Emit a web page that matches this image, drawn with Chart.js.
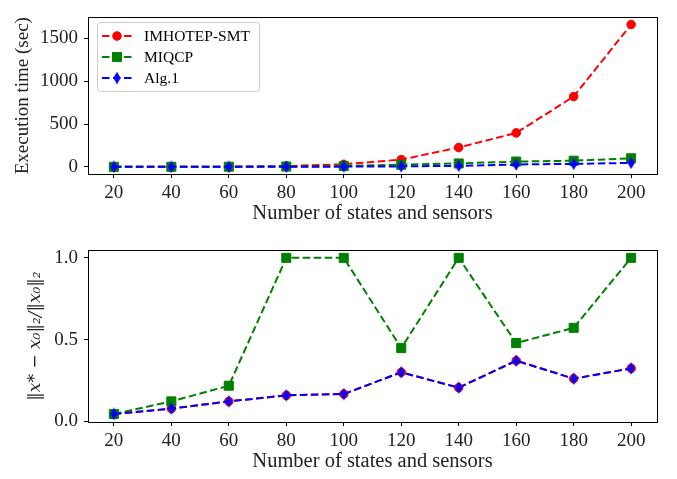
<!DOCTYPE html>
<html lang="en">
  <head>
    <meta charset="UTF-8" />
    <script src="https://cdn.jsdelivr.net/npm/chart.js"></script>
    <style>
      body { margin: 0; background: #fff; width: 677px; height: 479px; overflow: hidden; }
      canvas { position: absolute; left: 0; }
      #timeChart { top: 0; }
      #errChart { top: 230px; }
    </style>
  </head>
  <body>
    <canvas id="timeChart" width="677" height="230"></canvas>
    <canvas id="errChart" width="677" height="249"></canvas>

    <script>
      // data
      const sizes = [20, 40, 60, 80, 100, 120, 140, 160, 180, 200];
      const timeImhotep = [0.5, 1, 3, 10, 30, 85, 226, 396, 820, 1660];
      const timeMiqcp = [0.5, 1, 2, 4, 10, 25, 40, 62, 72, 100];
      const timeAlg1 = [0.1, 0.2, 0.5, 1, 3, 6, 12, 28, 35, 46];
      const errImhotep = [0.045, 0.078, 0.122, 0.159, 0.167, 0.300, 0.206, 0.371, 0.261, 0.324];
      const errMiqcp = [0.045, 0.122, 0.218, 1.0, 1.0, 0.448, 1.0, 0.479, 0.572, 1.0];
      const errAlg1 = [0.045, 0.078, 0.122, 0.159, 0.167, 0.300, 0.206, 0.371, 0.261, 0.324];
      const xTicks = [20, 40, 60, 80, 100, 120, 140, 160, 180, 200];
      const timeTicks = [0, 500, 1000, 1500];
      const errTicks = [0, 0.5, 1.0];

      const FONT = "'Liberation Serif', 'DejaVu Serif', serif";
      const MATH_FONT = "'DejaVu Serif', serif";
      const DASH = [7.5, 3.5];

      // thin diamond marker (matplotlib "d")
      const diamond = document.createElement("canvas");
      diamond.width = 8;
      diamond.height = 13;
      (function () {
        const c = diamond.getContext("2d");
        c.fillStyle = "#0000ff";
        c.beginPath();
        c.moveTo(4, 0.3);
        c.lineTo(7.6, 6.5);
        c.lineTo(4, 12.7);
        c.lineTo(0.4, 6.5);
        c.closePath();
        c.fill();
      })();

      function pts(vals) {
        return sizes.map((x, i) => ({ x: x, y: vals[i] }));
      }

      function series(label, vals, color, style, radius, order) {
        return {
          label: label,
          data: pts(vals),
          borderColor: color,
          backgroundColor: color,
          pointBackgroundColor: color,
          pointBorderColor: color,
          pointBorderWidth: 1,
          pointStyle: style,
          pointRadius: radius,
          borderWidth: 2,
          borderDash: DASH,
          fill: false,
          tension: 0,
          order: order,
        };
      }

      // black box around the plot area
      const frame = {
        id: "frame",
        afterDraw(chart) {
          const { ctx, chartArea: a } = chart;
          ctx.save();
          ctx.strokeStyle = "#000";
          ctx.lineWidth = 1;
          ctx.strokeRect(Math.round(a.left) + 0.5, Math.round(a.top) + 0.5,
            Math.round(a.right - a.left), Math.round(a.bottom - a.top));
          ctx.restore();
        },
      };

      // matplotlib-like legend inside the axes
      const boxLegend = {
        id: "boxLegend",
        afterDraw(chart, args, opts) {
          if (!opts.show) return;
          const { ctx, chartArea: a } = chart;
          const x0 = Math.round(a.left) + 9, y0 = Math.round(a.top) + 5;
          ctx.save();
          ctx.beginPath();
          ctx.roundRect(x0 + 0.5, y0 + 0.5, 162, 69, 3);
          ctx.fillStyle = "rgba(255,255,255,0.8)";
          ctx.fill();
          ctx.strokeStyle = "#cccccc";
          ctx.lineWidth = 1;
          ctx.stroke();
          chart.data.datasets.forEach((ds, i) => {
            const y = y0 + 14 + i * 21;
            ctx.setLineDash(DASH);
            ctx.strokeStyle = ds.borderColor;
            ctx.lineWidth = 2;
            ctx.beginPath();
            ctx.moveTo(x0 + 5, y);
            ctx.lineTo(x0 + 35, y);
            ctx.stroke();
            ctx.setLineDash([]);
            ctx.fillStyle = ds.pointBackgroundColor;
            ctx.lineWidth = 1;
            Chart.helpers.drawPoint(ctx, { pointStyle: ds.pointStyle, radius: ds.pointRadius, borderWidth: 1, rotation: 0 }, x0 + 20, y);
            ctx.fillStyle = "#000";
            ctx.font = "15.5px " + FONT;
            ctx.textBaseline = "middle";
            ctx.textAlign = "left";
            ctx.fillText(ds.label, x0 + 47, y + 1);
          });
          ctx.restore();
        },
      };

      function axes(yTicks, yMin, yMax, yTitle, yTitleFont, yTitlePad, yFmt, xHeight, xTitlePad) {
        return {
          x: {
            type: "linear",
            min: 11,
            max: 209,
            afterBuildTicks: (s) => { s.ticks = xTicks.map((v) => ({ value: v })); },
            afterFit: (s) => { s.height = xHeight; },
            grid: { drawOnChartArea: false, drawTicks: true, tickLength: 4, color: "#000" },
            border: { color: "#000" },
            ticks: { color: "#222", padding: 4, font: { family: FONT, size: 19 }, maxRotation: 0 },
            title: {
              display: true,
              text: "Number of states and sensors",
              color: "#222",
              font: { family: FONT, size: 20.5 },
              padding: { top: 0, bottom: xTitlePad },
            },
          },
          y: {
            min: yMin,
            max: yMax,
            afterBuildTicks: (s) => { s.ticks = yTicks.map((v) => ({ value: v })); },
            afterFit: (s) => { s.width = 88; },
            grid: { drawOnChartArea: false, drawTicks: true, tickLength: 4, color: "#000" },
            border: { color: "#000" },
            ticks: { color: "#222", padding: 6, font: { family: FONT, size: 19 }, callback: yFmt },
            title: {
              display: true,
              text: yTitle,
              color: "#222",
              font: yTitleFont,
              padding: { top: yTitlePad, bottom: 0 },
            },
          },
        };
      }

      new Chart(document.getElementById("timeChart"), {
        type: "line",
        data: {
          datasets: [
            series("IMHOTEP-SMT", timeImhotep, "#ff0000", "circle", 4.3, 2),
            series("MIQCP", timeMiqcp, "#008000", "rect", 6.4, 1),
            series("Alg.1", timeAlg1, "#0000ff", diamond, 5, 0),
          ],
        },
        options: {
          responsive: false,
          animation: false,
          events: [],
          layout: { padding: { left: 0, right: 20, top: 3, bottom: 0 } },
          plugins: { legend: { display: false }, tooltip: { enabled: false }, boxLegend: { show: true } },
          scales: axes(timeTicks, -83, 1743, "Execution time (sec)", { family: FONT, size: 19 }, 12,
            (v) => v, 56, 4),
        },
        plugins: [frame, boxLegend],
      });

      new Chart(document.getElementById("errChart"), {
        type: "line",
        data: {
          datasets: [
            series("IMHOTEP-SMT", errImhotep, "#ff0000", "circle", 4.3, 2),
            series("MIQCP", errMiqcp, "#008000", "rect", 6.4, 1),
            series("Alg.1", errAlg1, "#0000ff", diamond, 5, 0),
          ],
        },
        options: {
          responsive: false,
          animation: false,
          events: [],
          layout: { padding: { left: 0, right: 20, top: 20, bottom: 0 } },
          plugins: { legend: { display: false }, tooltip: { enabled: false }, boxLegend: { show: false } },
          scales: axes(errTicks, -0.004, 1.048, "\u2016x* \u2212 x\u2080\u2016\u2082/\u2016x\u2080\u2016\u2082",
            { family: MATH_FONT, size: 17, style: "italic" }, 25, (v) => v.toFixed(1), 57, 5),
        },
        plugins: [frame, boxLegend],
      });
    </script>
  </body>
</html>
